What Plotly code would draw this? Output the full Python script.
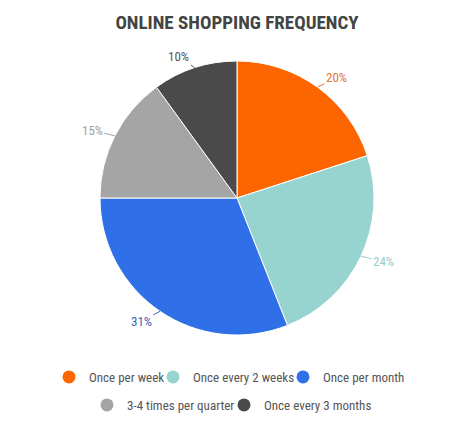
import math
import plotly.graph_objs as go

# data
labels = ['Once per week', 'Once every 2 weeks', 'Once per month',
          '3-4 times per quarter', 'Once every 3 months']
values = [20, 24, 31, 15, 10]
colors = ['#fd6500', '#97d4cf', '#2f70e8', '#a5a5a5', '#4a4a4a']
text_colors = ['#e0773a', '#97cdc9', '#3d66b8', '#a3a3a3', '#555555']

# page body adds an 8px margin, so the figure is drawn 8px smaller
W, H = 466, 419
# pie placement (pixels, figure coords)
cx, cy, r = 229, 190, 137

FONT = 'Roboto Condensed, Liberation Sans Narrow, DejaVu Sans Condensed, Roboto'

fig = go.Figure()
fig.add_trace(go.Pie(labels=labels, values=values, sort=False,
                     direction='clockwise', rotation=0,
                     marker=dict(colors=colors, line=dict(color='white', width=1)),
                     textinfo='none', hoverinfo='label+percent',
                     showlegend=False,
                     domain=dict(x=[(cx - r) / W, (cx + r) / W],
                                 y=[1 - (cy + r) / H, 1 - (cy - r) / H])))

# legend entries as round markers, split in two rows; tighter item widths
item_widths = [59, 85, 90, 92, 110]
for i, (lab, col) in enumerate(zip(labels, colors)):
    fig.add_trace(go.Scatter(x=[None], y=[None], mode='markers', name=lab,
                             marker=dict(color=col, size=13),
                             legendwidth=item_widths[i],
                             legend='legend' if i < 3 else 'legend2'))

# percentage labels with short leader lines, placed from the slice angles
total = sum(values)
cum = 0
annotations = []
for v, tc in zip(values, text_colors):
    theta = 2 * math.pi * (cum + v / 2) / total
    cum += v
    s, c = math.sin(theta), math.cos(theta)
    d = 12
    annotations.append(dict(
        x=(cx + r * s) / W, y=1 - (cy - r * c) / H, xref='paper', yref='paper',
        text='%d%%' % round(100 * v / total), showarrow=True,
        ax=d * s + 12 * (1 if s > 0 else -1), ay=-d * c,
        arrowhead=0, arrowwidth=1, arrowcolor=tc, standoff=0,
        font=dict(family=FONT, size=13, color=tc)))

legend_style = dict(orientation='h', xanchor='left',
                    yanchor='middle', font=dict(family=FONT, size=13, color='#555555'),
                    bgcolor='rgba(0,0,0,0)')

fig.update_layout(
    width=W, height=H,
    margin=dict(l=0, r=0, t=0, b=0),
    paper_bgcolor='white', plot_bgcolor='white',
    title=dict(text='<b>ONLINE SHOPPING FREQUENCY</b>', x=cx / W, xanchor='center',
               y=1 - 14 / H, yanchor='middle',
               font=dict(family=FONT, size=19, color='#444444')),
    xaxis=dict(visible=False), yaxis=dict(visible=False),
    legend=dict(x=(66 - 25) / W, y=1 - 369 / H, **legend_style),
    legend2=dict(x=(104 - 25) / W, y=1 - 397 / H, **legend_style),
    annotations=annotations,
)

fig.write_html('out.html')
